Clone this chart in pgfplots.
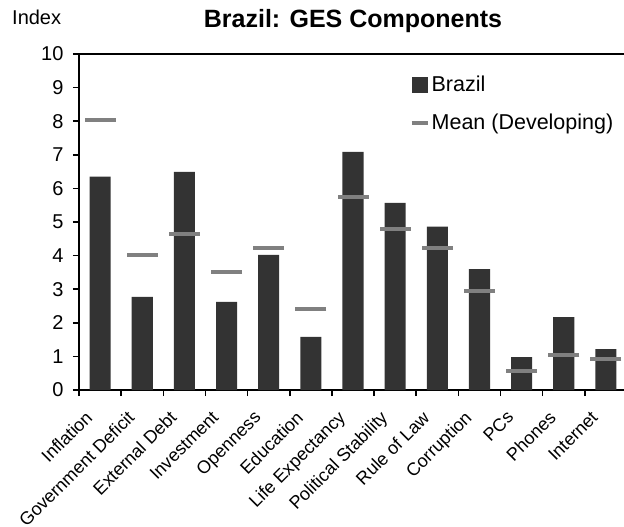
\documentclass[border=0pt]{standalone}
\usepackage{pgfplots}
\pgfplotsset{compat=1.18}
\usepackage{fontspec}
\setmainfont{Liberation Sans}
\definecolor{barc}{HTML}{333333}
\definecolor{meanc}{HTML}{808080}

\begin{document}
\begin{tikzpicture}
\begin{axis}[
  scale only axis, width=548bp, height=336bp,
  xmin=-0.5, xmax=12.5, ymin=0, ymax=10,
  ytick={0,...,10},
  xtick={-0.5,0.5,...,12.5}, xticklabels={},
  extra x ticks={0,...,12},
  extra x tick labels={Inflation,Government Deficit,External Debt,Investment,Openness,Education,Life Expectancy,Political Stability,Rule of Law,Corruption,PCs,Phones,Internet},
  extra x tick style={major tick length=0pt,
    xticklabel style={rotate=45, anchor=north east, inner sep=1bp,
      xshift=-24bp, yshift=-1.5bp,
      font=\fontsize{18bp}{22bp}\selectfont}},
  tick align=outside, tick pos=left,
  major tick length=6bp,
  tick style={black, line width=1.5bp},
  axis line style={line width=1.5bp},
  yticklabel style={font=\fontsize{20bp}{24bp}\selectfont, xshift=-6bp},
  /pgf/number format/assume math mode=true,
  legend style={draw=none, fill=none, at={(0.603,0.94)}, anchor=north west,
    inner sep=0pt, row sep=17bp, font=\fontsize{21.5bp}{24bp}\selectfont,
    nodes={inner xsep=2bp}},
  legend cell align=left,
]
\addplot[ybar, bar width=0.5, bar shift=0pt, fill=barc, draw=none,
  legend image code/.code={\fill[barc] (0bp,-8bp) rectangle (16bp,8bp);}]
  coordinates {(0,6.35) (1,2.77) (2,6.49) (3,2.62) (4,4.02) (5,1.58) (6,7.09)
               (7,5.57) (8,4.86) (9,3.60) (10,0.98) (11,2.17) (12,1.22)};
\addlegendentry{Brazil}
\addplot[only marks, mark=-, mark size=15.5bp, color=meanc,
  mark options={line width=4bp},
  legend image code/.code={\draw[meanc, line width=4bp] (0bp,0bp) -- (16bp,0bp);}]
  coordinates {(0,8.03) (1,4.02) (2,4.64) (3,3.51) (4,4.22) (5,2.42) (6,5.73)
               (7,4.80) (8,4.22) (9,2.94) (10,0.58) (11,1.03) (12,0.93)};
\addlegendentry{Mean (Developing)}
\coordinate (o) at (rel axis cs:0,0);
\end{axis}
\node[anchor=base, font=\bfseries\fontsize{25bp}{30bp}\selectfont]
  at ([shift={(274bp,362bp)}]o) {Brazil: GES Components};
\node[anchor=base west, inner sep=0pt, font=\fontsize{20bp}{24bp}\selectfont]
  at ([shift={(-67bp,365bp)}]o) {Index};
\pgfresetboundingbox
\path[use as bounding box] ([shift={(-79bp,-137bp)}]o) rectangle ++(624bp,527bp);
\end{tikzpicture}
\end{document}
